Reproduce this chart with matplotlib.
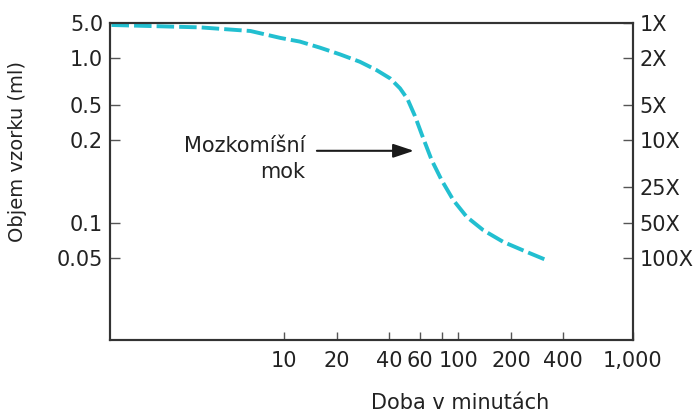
import matplotlib
matplotlib.use("Agg")
import matplotlib.pyplot as plt

# time (minutes) vs. dilution factor
time_min = [1.02, 3.3, 6.4, 9.5, 12.3, 16.0, 20.9, 27.2, 33.9, 40.5, 46.2, 51.0,
            56.3, 61.8, 70.2, 80.1, 93.4, 111.5, 138.9, 180.9, 246.4, 321]
dilution = [1.04, 1.09, 1.17, 1.34, 1.44, 1.62, 1.85, 2.14, 2.52, 2.96, 3.60, 4.44,
            6.20, 9.00, 14.7, 21.8, 32.2, 44.7, 58.1, 73.1, 88.9, 104.6]

x_ticks = [10, 20, 40, 60, 80, 100, 200, 400, 1000]
x_labels = ["10", "20", "40", "60", "", "100", "200", "400", "1,000"]

left_pos = [1, 2, 5, 10, 50, 100]
left_labels = ["5.0", "1.0", "0.5", "0.2", "0.1", "0.05"]

right_pos = [1, 2, 5, 10, 25, 50, 100]
right_labels = ["1X", "2X", "5X", "10X", "25X", "50X", "100X"]

plt.rcParams["font.family"] = ["DejaVu Sans"]
text_col = "#222222"
spine_col = "#333333"

fig = plt.figure(figsize=(6.98, 4.15), dpi=100)
ax = fig.add_axes([0.1576, 0.1807, 0.7488, 0.7639])

ax.plot(time_min, dilution, color="#22BFD0", lw=2.8, dashes=(4.5, 1.3),
        dash_capstyle="butt")

ax.set_xscale("log")
ax.set_yscale("log")
ax.set_xlim(1, 1000)
ax.set_ylim(500, 1)

ax.set_xticks(x_ticks)
ax.set_xticklabels(x_labels)
ax.set_yticks(left_pos)
ax.set_yticklabels(left_labels)
ax.minorticks_off()
ax.tick_params(axis="x", direction="in", length=6, width=1, color="#555555",
               labelsize=15, labelcolor=text_col, pad=8)
ax.tick_params(axis="y", direction="in", length=7, width=1, color="#555555",
               labelsize=15, labelcolor=text_col, pad=5)

ax2 = ax.twinx()
ax2.set_yscale("log")
ax2.set_ylim(500, 1)
ax2.set_yticks(right_pos)
ax2.set_yticklabels(right_labels)
ax2.minorticks_off()
ax2.tick_params(axis="y", direction="in", length=7, width=1, color="#555555",
                labelsize=15, labelcolor=text_col, pad=5)

for a in (ax, ax2):
    for s in a.spines.values():
        s.set_color(spine_col)
        s.set_linewidth(1.5)

ax.set_xlabel("Doba v minutách", fontsize=15, color=text_col)
ax.xaxis.set_label_coords(0.67, -0.168)
ax.set_ylabel("Objem vzorku (ml)", fontsize=14, color=text_col)
ax.yaxis.set_label_coords(-0.159, 0.596)

# annotation
ax.text(13.2, 14.4, "Mozkomíšní\nmok", ha="right", va="center", fontsize=15,
        color=text_col, linespacing=1.35)
ax.annotate("", xy=(55.5, 12.25), xytext=(15.4, 12.25),
            arrowprops=dict(arrowstyle="-|>,head_length=0.9,head_width=0.3",
                            color="#1a1a1a", lw=1.5, shrinkA=0, shrinkB=0,
                            mutation_scale=14))

fig.savefig("out.png", dpi=100)
